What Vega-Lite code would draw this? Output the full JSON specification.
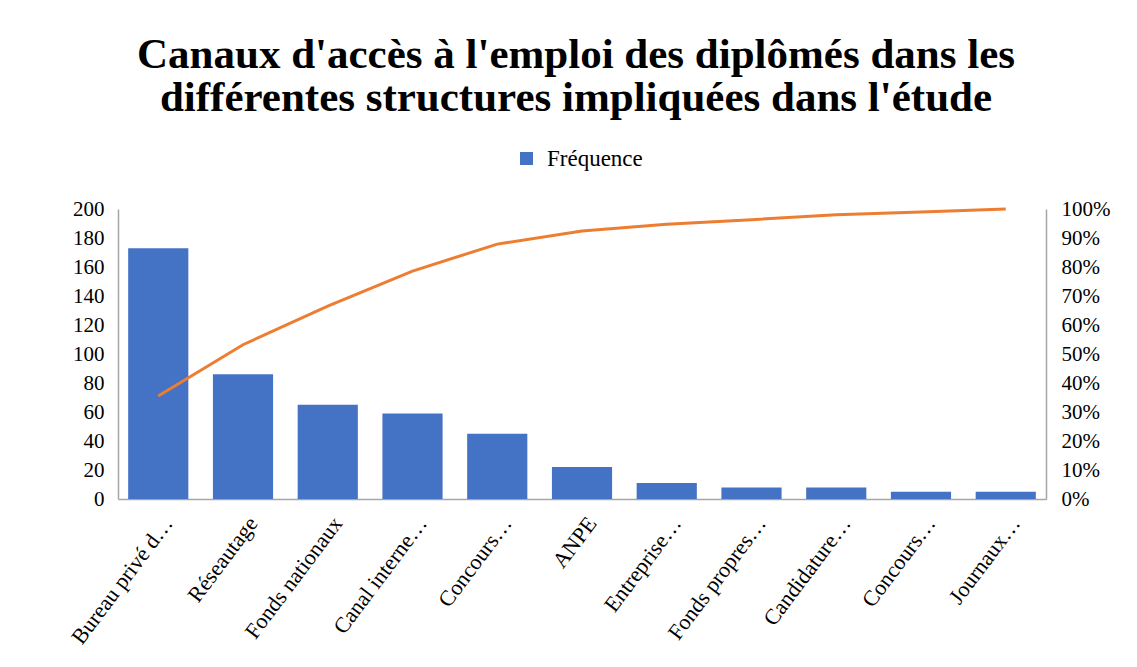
{
  "$schema": "https://vega.github.io/schema/vega-lite/v6.json",
  "width": 928,
  "height": 290,
  "autosize": {"type": "none"},
  "padding": {"left": 118, "top": 209, "right": 91, "bottom": 168},
  "background": "white",
  "config": {"view": {"stroke": null}, "font": "Liberation Serif"},
  "title": {
    "text": ["Canaux d'accès à l'emploi des diplômés dans les", "différentes structures impliquées dans l'étude"],
    "font": "Liberation Serif",
    "fontSize": 43,
    "fontWeight": "bold",
    "lineHeight": 43,
    "anchor": "middle",
    "frame": "group",
    "offset": 27,
    "dx": -6,
    "color": "black"
  },
  "data": {
    "values": [
      {"canal": "Bureau privé d…", "frequence": 173, "cumul": 0.355},
      {"canal": "Réseautage", "frequence": 86, "cumul": 0.532},
      {"canal": "Fonds nationaux", "frequence": 65, "cumul": 0.665},
      {"canal": "Canal interne…", "frequence": 59, "cumul": 0.786},
      {"canal": "Concours…", "frequence": 45, "cumul": 0.879},
      {"canal": "ANPE", "frequence": 22, "cumul": 0.924},
      {"canal": "Entreprise…", "frequence": 11, "cumul": 0.947},
      {"canal": "Fonds propres…", "frequence": 8, "cumul": 0.963},
      {"canal": "Candidature…", "frequence": 8, "cumul": 0.98},
      {"canal": "Concours… ", "frequence": 5, "cumul": 0.99},
      {"canal": "Journaux…", "frequence": 5, "cumul": 1.0}
    ]
  },
  "encoding": {
    "x": {
      "field": "canal",
      "type": "nominal",
      "sort": null,
      "scale": {"paddingInner": 0.29, "paddingOuter": 0.12},
      "axis": {
        "title": null,
        "labelAngle": -53,
        "labelFont": "Liberation Serif",
        "labelFontSize": 22,
        "labelColor": "black",
        "labelPadding": 20,
        "labelOffset": 10,
        "labelLimit": 300,
        "labelExpr": "trim(datum.label)",
        "ticks": false,
        "domainColor": "#A6A6A6",
        "domainWidth": 1.5
      }
    }
  },
  "layer": [
    {
      "mark": {"type": "bar"},
      "encoding": {
        "y": {
          "field": "frequence",
          "type": "quantitative",
          "scale": {"domain": [0, 200]},
          "axis": {
            "title": null,
            "values": [0, 20, 40, 60, 80, 100, 120, 140, 160, 180, 200],
            "grid": false,
            "ticks": false,
            "labelFont": "Liberation Serif",
            "labelFontSize": 21,
            "labelColor": "black",
            "labelPadding": 14,
            "domainColor": "#A6A6A6",
            "domainWidth": 1.5
          }
        },
        "color": {
          "datum": "Fréquence",
          "type": "nominal",
          "scale": {"range": ["#4472C4"]},
          "legend": {
            "title": null,
            "orient": "none",
            "legendX": 397,
            "legendY": -62,
            "padding": 0,
            "symbolType": "square",
            "symbolSize": 169,
            "symbolStrokeWidth": 0,
            "labelFont": "Liberation Serif",
            "labelFontSize": 23,
            "labelColor": "black",
            "labelOffset": 9
          }
        }
      }
    },
    {
      "mark": {"type": "line", "color": "#ED7D31", "strokeWidth": 3},
      "encoding": {
        "y": {
          "field": "cumul",
          "type": "quantitative",
          "scale": {"domain": [0, 1]},
          "axis": {
            "title": null,
            "orient": "right",
            "format": ".0%",
            "values": [0, 0.1, 0.2, 0.3, 0.4, 0.5, 0.6, 0.7, 0.8, 0.9, 1],
            "grid": false,
            "ticks": false,
            "labelFont": "Liberation Serif",
            "labelFontSize": 21,
            "labelColor": "black",
            "labelPadding": 15,
            "domainColor": "#A6A6A6",
            "domainWidth": 1.5
          }
        }
      }
    }
  ],
  "resolve": {"scale": {"y": "independent"}}
}
